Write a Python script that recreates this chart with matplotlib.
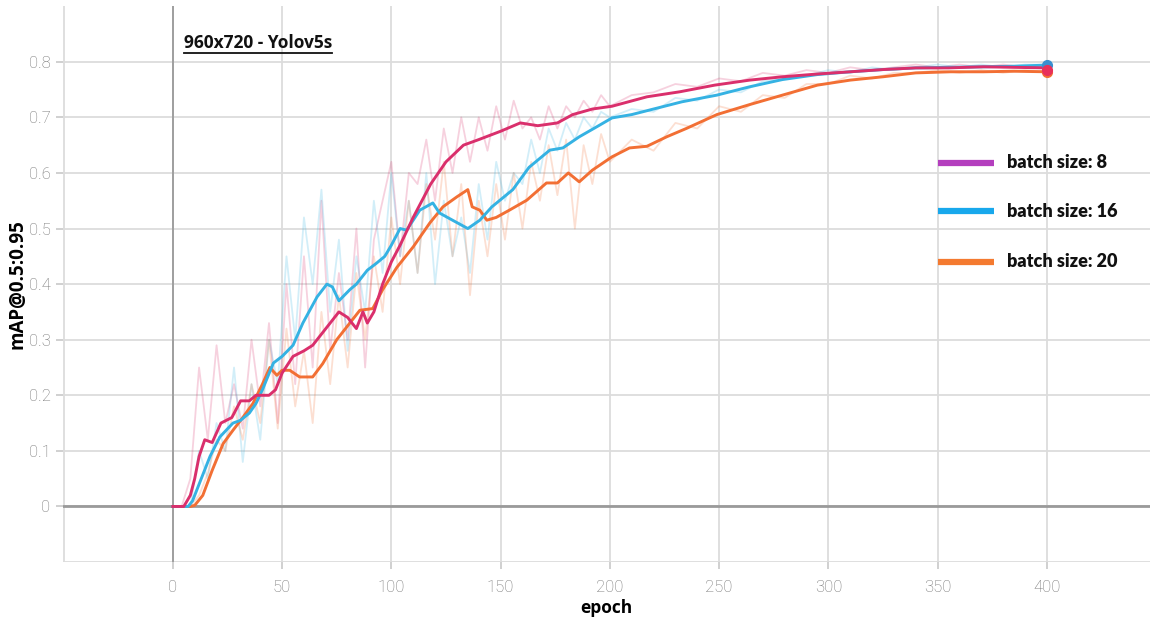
import matplotlib
matplotlib.use("Agg")
import matplotlib.pyplot as plt
from matplotlib.lines import Line2D
import numpy as np

# ---------------- data ----------------
# smoothed curves (epoch, mAP)
ep8 = [0, 5, 8, 10, 12, 14.6, 18, 22, 27, 31, 35, 38, 44, 47, 50, 55, 60, 64, 68, 72, 76, 80, 84, 87, 89, 92,
       96, 100, 104, 110, 118, 125, 133, 140, 150, 159, 167, 176, 183, 192, 201, 217, 232, 248, 264, 279, 295,
       310, 325, 340, 355, 371, 385, 400]
map8 = [0, 0.0, 0.02, 0.05, 0.09, 0.12, 0.115, 0.15, 0.16, 0.19, 0.19, 0.20, 0.20, 0.21, 0.24, 0.27, 0.28, 0.29,
        0.31, 0.33, 0.35, 0.34, 0.32, 0.35, 0.33, 0.35, 0.40, 0.44, 0.47, 0.52, 0.58, 0.62, 0.65, 0.66, 0.675, 0.69,
        0.685, 0.69, 0.705, 0.715, 0.72, 0.737, 0.746, 0.758, 0.767, 0.773, 0.778, 0.782, 0.786, 0.789, 0.789,
        0.791, 0.790, 0.789]

ep16 = [0, 7, 9, 12, 17, 21.5, 27.5, 31, 35, 38, 41, 46, 50, 55, 59.5, 66, 70.5, 73, 76, 81, 84, 89, 93, 97, 100,
        104, 107, 113, 119, 122, 128, 135, 140.5, 146, 155.6, 163, 172.5, 178.5, 186, 194, 201, 210, 217, 225,
        233, 249, 264, 279, 295, 310, 325, 340, 355, 371, 385, 400]
map16 = [0, 0, 0.01, 0.04, 0.09, 0.125, 0.15, 0.155, 0.168, 0.185, 0.21, 0.258, 0.27, 0.29, 0.33, 0.377, 0.40,
         0.395, 0.37, 0.39, 0.40, 0.425, 0.437, 0.45, 0.47, 0.50, 0.497, 0.533, 0.546, 0.528, 0.515, 0.50, 0.515,
         0.539, 0.57, 0.61, 0.641, 0.645, 0.665, 0.683, 0.699, 0.705, 0.712, 0.72, 0.728, 0.74, 0.755, 0.768,
         0.777, 0.782, 0.786, 0.789, 0.79, 0.791, 0.792, 0.794]

ep20 = [0, 8, 10, 13.7, 18, 23, 27.5, 32, 36.6, 41, 44.4, 47.6, 50, 53.5, 58, 64, 68.6, 75, 79.6, 85.6, 91.5, 96,
        102.5, 110, 117.6, 123.6, 130, 135, 137, 140.5, 143.7, 148, 154, 162, 171, 176, 181, 186, 192, 201, 209,
        217, 226, 235, 249, 264, 279, 295, 310, 325, 340, 356, 371, 385, 400]
map20 = [0, 0, 0.002, 0.02, 0.065, 0.113, 0.137, 0.16, 0.185, 0.22, 0.25, 0.236, 0.245, 0.245, 0.233, 0.233,
         0.257, 0.30, 0.323, 0.353, 0.356, 0.39, 0.43, 0.467, 0.51, 0.539, 0.557, 0.57, 0.539, 0.533, 0.515, 0.52,
         0.533, 0.551, 0.582, 0.582, 0.60, 0.584, 0.605, 0.629, 0.645, 0.648, 0.665, 0.68, 0.705, 0.723, 0.74,
         0.758, 0.767, 0.773, 0.78, 0.782, 0.782, 0.783, 0.782]

# raw (unsmoothed, faint) curves
raw_ep = [0, 4, 8, 12, 16, 20, 24, 28, 32, 36, 40, 44, 48, 52, 56, 60, 64, 68, 72, 76, 80, 84, 88, 92, 96, 100,
          104, 108, 112, 116, 120, 124, 128, 132, 136, 140, 144, 148, 152, 156, 160, 164, 168, 172, 176, 180,
          184, 188, 192, 196, 200, 210, 220, 230, 240, 250, 260, 270, 280, 290, 300, 310, 320, 330, 340, 350,
          360, 370, 380, 390, 400]
raw8 = [0, 0.0, 0.05, 0.25, 0.12, 0.29, 0.15, 0.22, 0.14, 0.30, 0.18, 0.33, 0.15, 0.40, 0.22, 0.45, 0.25, 0.55,
        0.28, 0.42, 0.30, 0.50, 0.25, 0.48, 0.55, 0.62, 0.45, 0.60, 0.58, 0.66, 0.55, 0.68, 0.60, 0.70, 0.62, 0.70,
        0.64, 0.72, 0.66, 0.73, 0.68, 0.70, 0.66, 0.72, 0.68, 0.72, 0.70, 0.73, 0.71, 0.74, 0.72, 0.74, 0.745,
        0.76, 0.755, 0.77, 0.765, 0.78, 0.775, 0.785, 0.78, 0.79, 0.785, 0.79, 0.795, 0.79, 0.795, 0.79, 0.795,
        0.79, 0.79]
raw16 = [0, 0, 0.0, 0.10, 0.05, 0.15, 0.10, 0.25, 0.08, 0.22, 0.12, 0.30, 0.22, 0.45, 0.30, 0.52, 0.40, 0.57,
         0.35, 0.48, 0.28, 0.45, 0.35, 0.55, 0.42, 0.60, 0.45, 0.55, 0.42, 0.60, 0.40, 0.55, 0.45, 0.52, 0.42,
         0.58, 0.48, 0.62, 0.55, 0.60, 0.58, 0.66, 0.60, 0.68, 0.64, 0.69, 0.66, 0.70, 0.68, 0.71, 0.70, 0.715,
         0.71, 0.735, 0.73, 0.75, 0.745, 0.765, 0.77, 0.775, 0.785, 0.78, 0.79, 0.785, 0.79, 0.795, 0.79, 0.795,
         0.79, 0.795, 0.795]
raw20 = [0, 0, 0, 0.02, 0.06, 0.12, 0.10, 0.18, 0.12, 0.22, 0.15, 0.30, 0.14, 0.32, 0.18, 0.28, 0.15, 0.35,
         0.22, 0.38, 0.25, 0.42, 0.30, 0.45, 0.35, 0.52, 0.40, 0.55, 0.42, 0.58, 0.48, 0.62, 0.45, 0.58, 0.38,
         0.55, 0.45, 0.58, 0.48, 0.60, 0.50, 0.62, 0.55, 0.65, 0.56, 0.66, 0.50, 0.65, 0.58, 0.67, 0.62, 0.66,
         0.64, 0.69, 0.68, 0.72, 0.71, 0.74, 0.735, 0.76, 0.76, 0.775, 0.77, 0.78, 0.78, 0.785, 0.78, 0.785,
         0.78, 0.785, 0.782]

labels = ["batch size: 8", "batch size: 16", "batch size: 20"]
x_ticks = [0, 50, 100, 150, 200, 250, 300, 350, 400]
y_ticks = [0, 0.1, 0.2, 0.3, 0.4, 0.5, 0.6, 0.7, 0.8]

# ---------------- style ----------------
c8, c16, c20 = "#da2f6c", "#35b2e3", "#f26f34"
leg_colors = ["#b43fbe", "#18a8ec", "#f47a30"]

fig = plt.figure(figsize=(11.51, 6.19), dpi=100)
ax = fig.add_axes([0.0547, 0.092, 0.944, 0.898])

ax.set_xlim(-50.3, 447)
ax.set_ylim(-0.1, 0.9)

# grid
for gx in [-50] + x_ticks:
    ax.axvline(gx, color="#dcdcdc", lw=1.3, zorder=0)
for gy in [-0.1] + y_ticks:
    ax.axhline(gy, color="#dcdcdc", lw=1.3, zorder=0)
ax.axvline(0, color="#9a9a9a", lw=1.3, zorder=1)
ax.axhline(0, color="#9a9a9a", lw=2.0, zorder=1)

for s in ax.spines.values():
    s.set_visible(False)

# raw faint lines
ax.plot(raw_ep, raw8, color=c8, alpha=0.22, lw=1.3, zorder=2)
ax.plot(raw_ep, raw16, color=c16, alpha=0.22, lw=1.3, zorder=2)
ax.plot(raw_ep, raw20, color=c20, alpha=0.22, lw=1.3, zorder=2)

# smoothed lines
ax.plot(ep20, map20, color=c20, lw=2.1, zorder=3)
ax.plot(ep16, map16, color=c16, lw=2.1, zorder=4)
ax.plot(ep8, map8, color=c8, lw=2.1, zorder=5)

# end markers
ax.plot(ep16[-1], map16[-1], "o", color="#3a8fd0", ms=7, zorder=6)
ax.plot(ep20[-1], map20[-1], "o", color=c20, ms=7, zorder=6)
ax.plot(ep8[-1], map8[-1] - 0.004, "o", color="#e8305a", ms=7, zorder=7)

# ticks
ax.set_xticks(x_ticks)
ax.set_xticklabels([str(v) for v in x_ticks])
ax.set_yticks(y_ticks)
ax.set_yticklabels(["0"] + [f"{v:.1f}" for v in y_ticks[1:]])
ax.tick_params(axis="both", colors="#c8c8c8", labelcolor="#727272", length=5, width=1.2,
               labelsize=12)
for lab in ax.get_xticklabels() + ax.get_yticklabels():
    lab.set_family(["Roboto", "DejaVu Sans"])
    lab.set_fontweight("light")
ax.tick_params(axis="x", pad=8)
ax.tick_params(axis="y", pad=4)

ax.set_xlabel("epoch", fontsize=12.5, fontweight="bold", family=["Open Sans", "DejaVu Sans"], labelpad=3)
ax.set_ylabel("mAP@0.5:0.95", fontsize=13.5, fontweight="bold", family=["Open Sans", "DejaVu Sans"],
              labelpad=1)

# title with underline
title = ax.text(5, 0.825, "960x720 - Yolov5s", fontsize=12.5, fontweight="bold",
                family=["Open Sans", "DejaVu Sans"], color="#111111", ha="left", va="baseline",
                zorder=8)
fig.canvas.draw()
bb = title.get_window_extent()
inv = fig.transFigure.inverted()
(x0, y0), (x1, y1) = inv.transform([(bb.x0, bb.y0), (bb.x1, bb.y0)])
fig.add_artist(Line2D([x0, x1], [y0 - 0.002, y0 - 0.002], transform=fig.transFigure,
                      color="#111111", lw=1.3))

# manual legend
leg_y = [0.737, 0.659, 0.577]
for lab, col, yy in zip(labels, leg_colors, leg_y):
    fig.add_artist(Line2D([0.815, 0.864], [yy, yy], transform=fig.transFigure, color=col, lw=4.5,
                          solid_capstyle="butt"))
    fig.text(0.875, yy, lab, fontsize=13, fontweight="heavy", family=["Lato", "DejaVu Sans"],
             color="#111111", va="center", ha="left")

fig.savefig("out.png", dpi=100)
